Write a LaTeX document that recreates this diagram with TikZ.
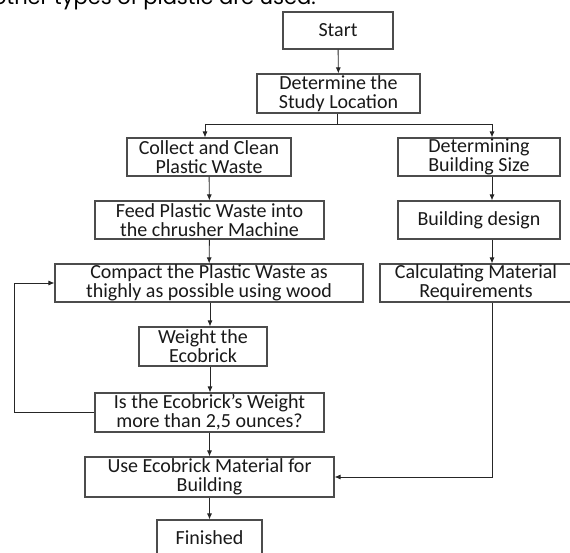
\documentclass[tikz,border=0pt]{standalone}
\usepackage{fontspec}
\setmainfont{Carlito}
\newfontfamily\topfont{Poppins}
\usetikzlibrary{arrows.meta,calc}
\tikzset{
  box/.style={draw=black!70, line width=1.1pt, fill=white, align=center, inner sep=0pt,
    font=\fontsize{20}{19}\selectfont, text=black!90},
  arr/.style={draw=black!85, line width=0.9pt, -{Latex[length=6pt,width=5pt]}},
  ln/.style={draw=black!85, line width=0.9pt}
}
\begin{document}
\begin{tikzpicture}[x=1pt,y=-1pt]
\useasboundingbox (0,0) rectangle (570,553);
\clip (0,0) rectangle (570,553);
\fill[white] (0,0) rectangle (570,553);
\node[anchor=base west, font=\topfont\fontsize{21}{24}\selectfont, inner sep=0pt] (toptext) at (-7,5) {other types of plastic are used.};
% boxes
\node[box, minimum width=110pt, minimum height=37pt] (start) at (338,30.5) {Start};
\node[box, minimum width=163pt, minimum height=39pt] (determine) at (338.5,93.5) {Determine the\\Study Location};
\node[box, minimum width=164pt, minimum height=38pt] (collect) at (209,157) {Collect and Clean\\Plastic Waste};
\node[box, minimum width=162pt, minimum height=38pt] (determining) at (479,157) {Determining\\Building Size};
\node[box, minimum width=229pt, minimum height=38pt] (feed) at (209.5,220) {Feed Plastic Waste into\\the chrusher Machine};
\node[box, minimum width=162pt, minimum height=38pt] (design) at (479,220) {Building design};
\node[box, minimum width=308pt, minimum height=38pt] (compact) at (209,283) {Compact the Plastic Waste as\\thighly as possible using wood};
\node[box, minimum width=192pt, minimum height=38pt] (calc) at (476,283) {Calculating Material\\Requirements};
\node[box, minimum width=128pt, minimum height=39pt] (weight) at (203,346.5) {Weight the\\Ecobrick};
\node[box, minimum width=229pt, minimum height=39pt] (is) at (209.5,412.5) {Is the Ecobrick’s Weight\\more than 2,5 ounces?};
\node[box, minimum width=249pt, minimum height=40pt] (use) at (209.5,477) {Use Ecobrick Material for\\Building};
\node[box, minimum width=105pt, minimum height=36pt] (finished) at (209.5,538) {Finished};
% helper coordinates
\coordinate (split) at (337,124);
\coordinate (sl) at (205,124);
\coordinate (sr) at (492,124);
\coordinate (lp) at (14,0);
% connectors
\draw[arr] (start) -- (determine);
\draw[ln] (determine.south -| split) -- (split);
\draw[ln] (sl) -- (sr);
\draw[arr] (sl) -- (sl |- collect.north);
\draw[arr] (sr) -- (sr |- determining.north);
\draw[arr] (collect) -- (feed);
\draw[arr] (feed) -- (compact);
\draw[arr] ($(compact.south)+(1,0)$) -- ($(compact.south |- weight.north)+(1,0)$);
\draw[arr] ($(weight.south -| compact.south)+(1,0)$) -- ($(is.north -| compact.south)+(1,0)$);
\draw[arr] (is) -- (use);
\draw[arr] (use) -- (finished);
\draw[arr] (determining.south -| sr) -- (design.north -| sr);
\draw[arr] (design.south -| sr) -- (calc.north -| sr);
\draw[arr] (is.west) -- (is.west -| lp) -- (compact.west -| lp) -- (compact.west);
\draw[arr] (calc.south -| sr) -- (use.east -| sr) -- (use.east);
\end{tikzpicture}
\end{document}
